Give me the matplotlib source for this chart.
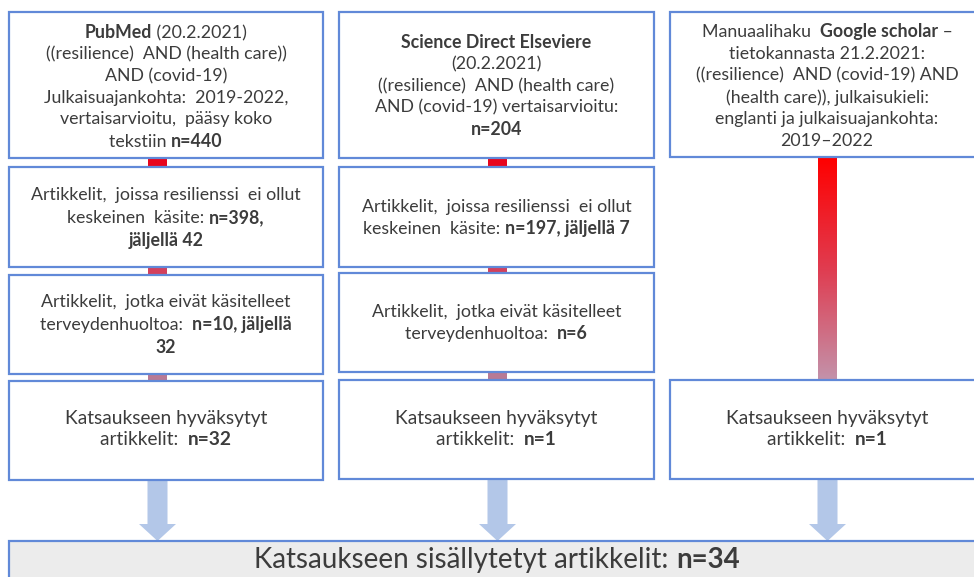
import matplotlib
matplotlib.use("Agg")
import matplotlib.pyplot as plt
import numpy as np
from matplotlib.patches import Rectangle, FancyArrow
from matplotlib.offsetbox import TextArea, HPacker, VPacker, AnnotationBbox
from matplotlib.colors import LinearSegmentedColormap

# ---------------- data (texts and counts) ----------------
B, N = True, False
pubmed_n, sciencedirect_n = 440, 204
col1_texts = [
    [[("PubMed", B), (" (20.2.2021)", N)],
     [("((resilience)  AND (health care))", N)],
     [("AND (covid-19)", N)],
     [("Julkaisuajankohta:  2019-2022,", N)],
     [("vertaisarvioitu,  pääsy koko", N)],
     [("tekstiin ", N), ("n=%d" % pubmed_n, B)]],
    [[("Artikkelit,  joissa resilienssi  ei ollut", N)],
     [("keskeinen  käsite: ", N), ("n=398,", B)],
     [("jäljellä 42", B)]],
    [[("Artikkelit,  jotka eivät käsitelleet", N)],
     [("terveydenhuoltoa:  ", N), ("n=10, jäljellä", B)],
     [("32", B)]],
    [[("Katsaukseen hyväksytyt", N)],
     [("artikkelit:  ", N), ("n=32", B)]],
]
col2_texts = [
    [[("Science Direct Elseviere", B)],
     [("(20.2.2021)", N)],
     [("((resilience)  AND (health care)", N)],
     [("AND (covid-19) vertaisarvioitu:", N)],
     [("n=%d" % sciencedirect_n, B)]],
    [[("Artikkelit,  joissa resilienssi  ei ollut", N)],
     [("keskeinen  käsite: ", N), ("n=197, jäljellä 7", B)]],
    [[("Artikkelit,  jotka eivät käsitelleet", N)],
     [("terveydenhuoltoa:  ", N), ("n=6", B)]],
    [[("Katsaukseen hyväksytyt", N)],
     [("artikkelit:  ", N), ("n=1", B)]],
]
col3_texts = [
    [[("Manuaalihaku  ", N), ("Google scholar", B), (" –", N)],
     [("tietokannasta 21.2.2021:", N)],
     [("((resilience)  AND (covid-19) AND", N)],
     [("(health care)), julkaisukieli:", N)],
     [("englanti ja julkaisuajankohta:", N)],
     [("2019–2022", N)]],
    [[("Katsaukseen hyväksytyt", N)],
     [("artikkelit:  ", N), ("n=1", B)]],
]
total_text = [[("Katsaukseen sisällytetyt artikkelit: ", N), ("n=34", B)]]

# ---------------- layout (pixel coordinates) ----------------
W, H = 974, 577
fig = plt.figure(figsize=(W / 100, H / 100), dpi=100)
ax = fig.add_axes([0, 0, 1, 1])
ax.set_xlim(0, W)
ax.set_ylim(H, 0)
ax.axis("off")

EDGE = "#6189d8"
TXT = "#3c3c3c"
FONT = ["Lato", "DejaVu Sans"]


def box(x0, x1, y0, y1, fc="white"):
    ax.add_patch(Rectangle((x0, y0), x1 - x0, y1 - y0, fc=fc, ec=EDGE,
                           lw=1.6, zorder=2))


def text_block(lines, cx, cy, size=12.8, family=FONT, sep=4.0):
    rows = []
    for segs in lines:
        kids = [TextArea(s, textprops=dict(fontsize=size, color=TXT,
                                           fontweight="bold" if b else "normal",
                                           family=family))
                for s, b in segs]
        rows.append(HPacker(children=kids, pad=0, sep=0, align="baseline"))
    vp = VPacker(children=rows, pad=0, sep=sep, align="center")
    ab = AnnotationBbox(vp, (cx, cy), xycoords="data", frameon=False,
                        box_alignment=(0.5, 0.5), pad=0, zorder=5)
    ax.add_artist(ab)


def connector(cx, y0, y1, color):
    ax.add_patch(Rectangle((cx - 9.5, y0), 19, y1 - y0, fc=color, ec="none",
                           zorder=1))


def draw_text(lines, cx, cy, last):
    if last:
        text_block(lines, cx, cy, size=13.8, sep=3.5)
    else:
        text_block(lines, cx, cy, size=12.8, sep=4.0)


# Column 1
c1 = (9, 323)
rows1 = [(12, 158), (167, 267), (275, 374), (381, 480)]
centers1 = [87, 218, 325, 429]
for (y0, y1), cy, lines in zip(rows1, centers1, col1_texts):
    box(c1[0], c1[1], y0, y1)
    draw_text(lines, (c1[0] + c1[1]) / 2, cy, lines is col1_texts[-1])
conn_cols = ["#e8051d", "#d3405c", "#b87a95"]
for i, col in enumerate(conn_cols):
    connector(157.5, rows1[i][1], rows1[i + 1][0], col)

# Column 2
c2 = (339, 654)
rows2 = [(12, 158), (167, 267), (273, 372), (380, 479)]
centers2 = [86, 218, 323, 429]
for (y0, y1), cy, lines in zip(rows2, centers2, col2_texts):
    box(c2[0], c2[1], y0, y1)
    draw_text(lines, (c2[0] + c2[1]) / 2, cy, lines is col2_texts[-1])
for i, col in enumerate(conn_cols):
    connector(497.5, rows2[i][1], rows2[i + 1][0], col)

# Column 3
c3 = (670, 985)
rows3 = [(12, 157), (380, 479)]
centers3 = [86, 429]
for (y0, y1), cy, lines in zip(rows3, centers3, col3_texts):
    box(c3[0], c3[1], y0, y1)
    draw_text(lines, 827, cy, lines is col3_texts[-1])
grad = LinearSegmentedColormap.from_list("g", ["#ff0000", "#e03c50", "#c392aa"])
ax.imshow(np.linspace(0, 1, 200).reshape(-1, 1), cmap=grad, aspect="auto",
          extent=(818, 837, rows3[1][0], rows3[0][1]), zorder=1,
          interpolation="bilinear")

# arrows down to total box
for cx, ytop in [(157.5, 480), (497.5, 479), (827.5, 479)]:
    ax.add_patch(FancyArrow(cx, ytop + 1, 0, 541 - ytop - 1, width=20,
                            head_width=37, head_length=17,
                            length_includes_head=True, fc="#b3c7e8",
                            ec="none", zorder=1))

# total box
box(9, 990, 541, 600, fc="#ececec")
text_block(total_text, 497, 560, size=20)

fig.savefig("out.png", dpi=100)
